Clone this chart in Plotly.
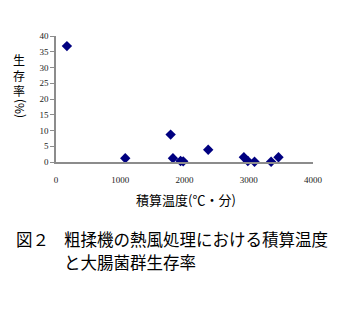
import plotly.graph_objects as go

temp = [170, 1078, 1784, 1820, 1939, 1980, 2369, 2924, 2986, 3090, 3348, 3463]
survival = [36.8, 1.2, 8.7, 1.2, 0.3, 0.2, 3.9, 1.5, 0.3, 0.1, 0.1, 1.5]
x_ticks = [0, 1000, 2000, 3000, 4000]
y_ticks = [0, 5, 10, 15, 20, 25, 30, 35, 40]

fig = go.Figure()
fig.add_trace(go.Scatter(
    x=temp, y=survival, mode="markers",
    marker=dict(symbol="diamond", size=8, color="#000080"),
    showlegend=False, cliponaxis=False,
))

tick_font = dict(family="Liberation Serif, Times New Roman, serif", size=9, color="#222")
fig.update_xaxes(
    range=[0, 4000], tickvals=x_ticks, ticktext=[str(v) for v in x_ticks],
    showline=True, linecolor="#8c8c8c", linewidth=1.5, showgrid=False, zeroline=False,
    ticks="", tickfont=tick_font, ticklabelstandoff=8,
)
fig.update_yaxes(
    range=[0, 40], tickvals=y_ticks,
    showline=True, linecolor="#8c8c8c", linewidth=1.5, showgrid=False, zeroline=False,
    ticks="outside", ticklen=4, tickcolor="#8c8c8c", tickfont=tick_font,
)

cjk = "Noto Sans CJK JP"
W, H = 361, 326
l, r, t, b = 56, 48, 36, 164
pw, ph = W - l - r, H - t - b

def ann(text, px, py, size, xanchor="center", angle=0, align="center"):
    return dict(text=text, x=(px - l) / pw, y=(H - b - py) / ph,
                xref="paper", yref="paper", xanchor=xanchor, yanchor="middle",
                textangle=angle, showarrow=False, align=align,
                font=dict(family=cjk, size=size, color="black"))

annotations = [
    ann("生<br>存<br>率", 19, 75, 12),
    ann("(%)", 19, 109, 12, angle=-90),
    ann("積算温度(℃・分)", 186, 199, 13),
    ann("図２", 14, 239, 16.5, xanchor="left"),
    ann("粗揉機の熱風処理における積算温度", 62, 239, 16.5, xanchor="left"),
    ann("と大腸菌群生存率", 62, 262, 16.5, xanchor="left"),
]

fig.update_layout(
    width=W, height=H,
    margin=dict(l=l, r=r, t=t, b=b),
    plot_bgcolor="white", paper_bgcolor="white",
    annotations=annotations,
)

fig.write_html("out.html")
